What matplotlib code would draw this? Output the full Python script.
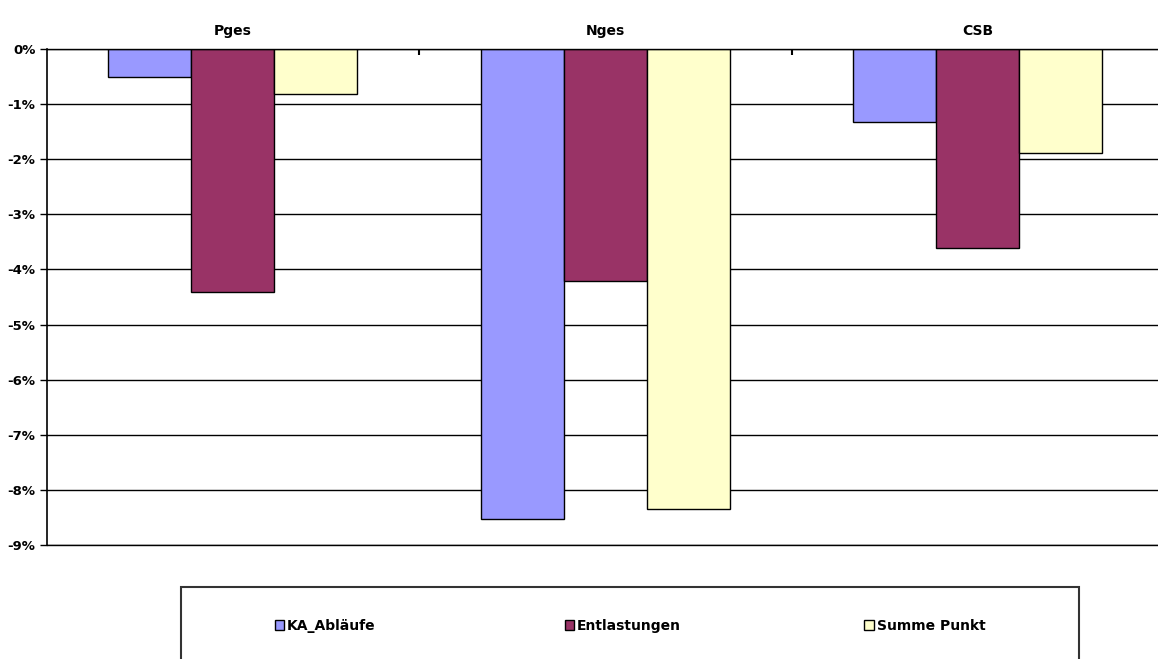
import matplotlib
matplotlib.use("Agg")
import matplotlib.pyplot as plt
import matplotlib.ticker as mtick
from matplotlib.patches import Rectangle
import numpy as np

plt.rcParams['font.family'] = ['DejaVu Sans']

# Daten (Prozent)
kategorien = ['Pges', 'Nges', 'CSB']
serien = ['KA_Abläufe', 'Entlastungen', 'Summe Punkt']
ka_ablaeufe = [-0.5, -8.53, -1.32]
entlastungen = [-4.41, -4.21, -3.61]
summe_punkt = [-0.82, -8.35, -1.89]
farben = ['#9999FF', '#993366', '#FFFFCC']

fig = plt.figure(figsize=(11.58, 6.59), dpi=100)
ax = fig.add_axes([46.5/1158, 1-545/659, 1117.5/1158, (545-49)/659])

x = np.arange(len(kategorien))
breite = 0.223
balken = []
for i, (werte, name) in enumerate(zip([ka_ablaeufe, entlastungen, summe_punkt], serien)):
    b = ax.bar(x + (i-1)*breite, werte, breite, color=farben[i], edgecolor='black',
               linewidth=1, label=name, zorder=3)
    balken.append(b)

ax.set_xlim(-0.5, 2.5)
ax.set_ylim(-9, 0)
ax.set_yticks(np.arange(-9, 1, 1))
ax.yaxis.set_major_formatter(mtick.FuncFormatter(lambda v, p: '%d%%' % round(v)))
ax.grid(axis='y', color='black', linewidth=1, zorder=0)

# Kategorien oben
ax.xaxis.tick_top()
ax.set_xticks(x)
ax.set_xticklabels(kategorien, fontweight='bold', fontsize=10)
ax.tick_params(axis='x', which='major', length=0, pad=8)
ax.set_xticks([0.5, 1.5], minor=True)
ax.tick_params(axis='x', which='minor', direction='in', length=4, width=1.5, top=True, bottom=False)
ax.tick_params(axis='y', direction='out', length=5, width=1, labelsize=9.5, pad=3)
for lab in ax.get_yticklabels():
    lab.set_fontweight('bold')

ax.spines['right'].set_visible(False)
ax.spines['left'].set_linewidth(1.2)
ax.spines['top'].set_linewidth(1)
ax.spines['bottom'].set_linewidth(1)
for s in ['top', 'bottom']:
    ax.spines[s].set_zorder(4)

# Legende
fig.patches.append(Rectangle((181/1158, -0.05), 898/1158, 0.05 + 1-587/659,
                             transform=fig.transFigure, fill=False,
                             edgecolor='#333333', linewidth=1.5))
legend_x = [262, 552, 852]
for b, name, lx in zip(balken, serien, legend_x):
    fig.legend([b], [name], loc='center left', bbox_to_anchor=(lx/1158, 1-626/659),
               frameon=False, handlelength=0.7, handleheight=0.7, handletextpad=0.2,
               prop={'weight': 'bold', 'size': 10})

fig.savefig('out.png', dpi=100)
